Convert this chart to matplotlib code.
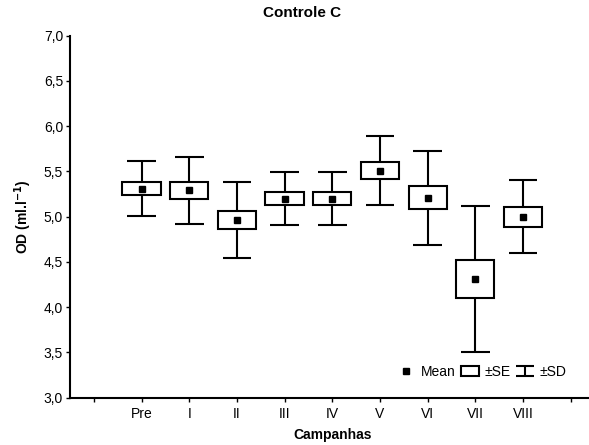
import matplotlib
matplotlib.use("Agg")
import matplotlib.pyplot as plt
from matplotlib.patches import Rectangle
from matplotlib.lines import Line2D
from matplotlib.path import Path
import numpy as np

plt.rcParams['font.family'] = ['Liberation Sans', 'DejaVu Sans']

categories = ['Pre', 'I', 'II', 'III', 'IV', 'V', 'VI', 'VII', 'VIII']
means = [5.31, 5.29, 4.96, 5.20, 5.20, 5.51, 5.21, 4.31, 5.00]
se = [0.07, 0.09, 0.10, 0.07, 0.07, 0.09, 0.125, 0.21, 0.11]
sd = [0.30, 0.37, 0.42, 0.29, 0.29, 0.38, 0.52, 0.81, 0.40]
yticks = [3.0, 3.5, 4.0, 4.5, 5.0, 5.5, 6.0, 6.5, 7.0]

W, H = 589, 445
fig = plt.figure(figsize=(W / 100, H / 100), dpi=100)
ax = fig.add_axes([70 / W, 1 - 397.7 / H, 524.5 / W, (397.7 - 35.7) / H])

lw = 1.5
box_w = 0.8
cap_w = 0.6
xs = np.arange(1, len(categories) + 1)
for x, m, s, d in zip(xs, means, se, sd):
    ax.vlines(x, m - d, m + d, color='black', lw=lw, zorder=2)
    ax.hlines([m - d, m + d], x - cap_w / 2, x + cap_w / 2, color='black', lw=lw, zorder=2)
    ax.add_patch(Rectangle((x - box_w / 2, m - s), box_w, 2 * s,
                           facecolor='white', edgecolor='black', lw=lw, zorder=3))
ax.plot(xs, means, linestyle='None', marker='s', markersize=5,
        color='black', zorder=4)

ax.set_xlim(-0.5, 10.5)
ax.set_ylim(3, 7)
ax.set_xticks(np.arange(0, 11))
ax.set_xticklabels([''] + categories + [''])
ax.set_yticks(yticks)
ax.set_yticklabels([f"{v:.1f}".replace('.', ',') for v in yticks])
ax.tick_params(axis='both', labelsize=10, length=3, width=1, direction='out')
ax.tick_params(axis='x', pad=4)
ax.tick_params(axis='y', pad=2)
for sp in ['top', 'right']:
    ax.spines[sp].set_visible(False)
for sp in ['left', 'bottom']:
    ax.spines[sp].set_linewidth(1.5)

ax.set_xlabel('Campanhas', fontsize=10, fontweight='bold', labelpad=5)
ax.set_ylabel(r'OD (ml.l$^{\mathbf{-1}}$)', fontsize=10, fontweight='bold', labelpad=7)
fig.text(302 / W, 1 - 13 / H, 'Controle C', fontsize=11, fontweight='bold',
         ha='center', va='center')

# legend
sd_path = Path([(-0.5, 0.3), (0.5, 0.3), (0, 0.3), (0, -0.3), (-0.5, -0.3), (0.5, -0.3)],
               [Path.MOVETO, Path.LINETO, Path.MOVETO, Path.LINETO, Path.MOVETO, Path.LINETO])
h_mean = Line2D([], [], linestyle='None', marker='s', markersize=5, color='black')
h_se = Rectangle((0, 0), 1, 1, facecolor='white', edgecolor='black', lw=lw)
h_sd = Line2D([], [], linestyle='None', marker=sd_path, markersize=13,
              markeredgewidth=lw, color='black', fillstyle='none')
leg = ax.legend([h_mean, h_se, h_sd], ['Mean', '±SE', '±SD'], ncol=3,
                loc='center', bbox_to_anchor=((482 - 70) / 524.5, (397.7 - 372) / 362),
                frameon=False, fontsize=10, handlelength=1.3, handleheight=0.8,
                handletextpad=0.4, columnspacing=0.4, borderpad=0)

fig.savefig('out.png', dpi=100)
